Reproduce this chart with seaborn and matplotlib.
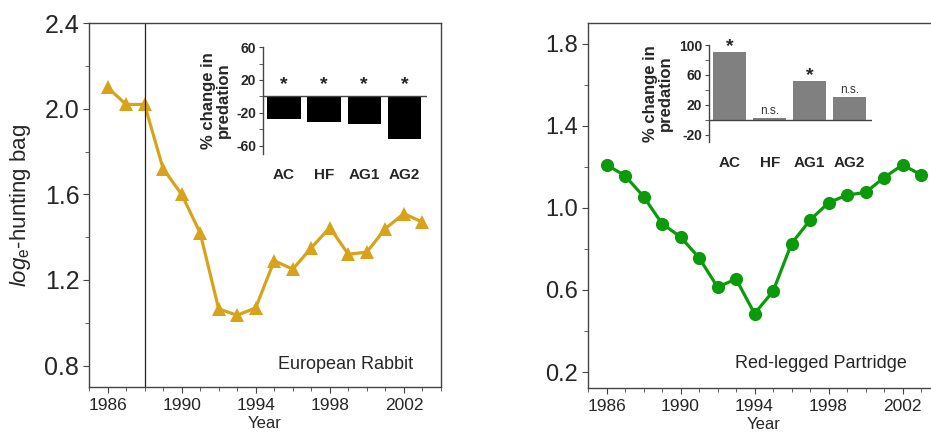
import numpy as np
import pandas as pd
import seaborn as sns
import matplotlib.pyplot as plt
from matplotlib.ticker import MultipleLocator

# Data
years = list(range(1986, 2004))
rabbit = [2.10, 2.02, 2.02, 1.72, 1.60, 1.42, 1.065, 1.035, 1.07,
          1.29, 1.25, 1.35, 1.445, 1.32, 1.33, 1.44, 1.51, 1.47]
partridge = [1.21, 1.156, 1.055, 0.923, 0.858, 0.757, 0.614, 0.653, 0.485,
             0.593, 0.826, 0.940, 1.025, 1.062, 1.075, 1.147, 1.209, 1.161]

treatments = ["AC", "HF", "AG1", "AG2"]
rabbit_pred = [-28, -31.5, -34, -52]
rabbit_sig = ["*", "*", "*", "*"]
partridge_pred = [91, 2, 52, 30]
partridge_sig = ["*", "n.s.", "*", "n.s."]

sns.set_style("ticks")
plt.rcParams["font.family"] = ["Liberation Sans", "DejaVu Sans"]
plt.rcParams["mathtext.fontset"] = "custom"
plt.rcParams["mathtext.it"] = "Liberation Sans:italic"
plt.rcParams["mathtext.rm"] = "Liberation Sans"
plt.rcParams["axes.unicode_minus"] = False

spine_col = "#444444"
gold = "#D9A21B"
green = "#0A9A0A"

fig = plt.figure(figsize=(9.31, 4.4), dpi=100)
ax1 = fig.add_axes([0.0956, 0.1205, 0.378, 0.827])
ax2 = fig.add_axes([0.6316, 0.118, 0.3776, 0.8297])


def style_main(ax, ytick_size, y_offset):
    for s in ax.spines.values():
        s.set_color(spine_col)
        s.set_linewidth(1.0)
    ax.xaxis.set_major_locator(MultipleLocator(4, offset=2))
    ax.xaxis.set_minor_locator(MultipleLocator(1))
    ax.yaxis.set_major_locator(MultipleLocator(0.4, offset=y_offset))
    ax.yaxis.set_minor_locator(MultipleLocator(0.2))
    ax.tick_params(axis="x", which="major", labelsize=12.5, length=4, color=spine_col, pad=4)
    ax.tick_params(axis="y", which="major", labelsize=ytick_size, length=4, color=spine_col, pad=3)
    ax.tick_params(which="minor", length=3, color=spine_col)
    ax.set_xlabel("Year", fontsize=12, labelpad=2)
    ax.grid(False)


# Left: European rabbit
df_r = pd.DataFrame({"year": years, "bag": rabbit})
sns.lineplot(data=df_r, x="year", y="bag", ax=ax1, color=gold, lw=2.3,
             marker="^", markersize=10, markeredgewidth=0)
ax1.axvline(1988, color="#222222", lw=0.9)
ax1.set_xlim(1985, 2004)
ax1.set_ylim(0.70, 2.40)
style_main(ax1, 18, 0.0)
ax1.yaxis.set_major_formatter(plt.FormatStrFormatter("%.1f"))
ax1.set_ylabel(r"$\mathit{log}_{\mathrm{e}}$-hunting bag", fontsize=16, labelpad=8)
ax1.text(0.92, 0.063, "European Rabbit", transform=ax1.transAxes,
         ha="right", va="center", fontsize=13)

# Right: red-legged partridge
df_p = pd.DataFrame({"year": years, "bag": partridge})
sns.lineplot(data=df_p, x="year", y="bag", ax=ax2, color=green, lw=2.3,
             marker="o", markersize=9.5, markeredgewidth=0)
ax2.set_xlim(1985, 2004)
ax2.set_ylim(0.122, 1.90)
style_main(ax2, 17, 0.2)
ax2.yaxis.set_major_formatter(plt.FormatStrFormatter("%.1f"))
ax2.set_ylabel("")
ax2.text(0.907, 0.068, "Red-legged Partridge", transform=ax2.transAxes,
         ha="right", va="center", fontsize=13)


def draw_inset(ax, vals, sigs, color, ylim, star_mode):
    sns.barplot(x=treatments, y=vals, color=color, width=0.83,
                saturation=1, ax=ax, edgecolor="none")
    ax.set_xlim(-0.52, 3.56)
    ax.set_ylim(*ylim)
    ax.axhline(0, color=spine_col, lw=1.0, xmin=0, xmax=1)
    ax.patch.set_alpha(0)
    for side in ["top", "right", "bottom"]:
        ax.spines[side].set_visible(False)
    ax.spines["left"].set_color(spine_col)
    ax.spines["left"].set_linewidth(1.0)
    ax.yaxis.set_major_locator(MultipleLocator(40, offset=20))
    ax.yaxis.set_minor_locator(MultipleLocator(20))
    ax.tick_params(axis="y", which="major", labelsize=10, length=3, color=spine_col, pad=2)
    ax.tick_params(axis="y", which="minor", length=3, color=spine_col)
    ax.tick_params(axis="x", length=0, labelsize=11, pad=10)
    for lab in ax.get_xticklabels() + ax.get_yticklabels():
        lab.set_fontweight("bold")
    ax.set_xlabel("")
    ax.set_ylabel("% change in\npredation", fontsize=12, fontweight="bold",
                  labelpad=4, linespacing=1.0)
    for i, (v, s) in enumerate(zip(vals, sigs)):
        if star_mode == "above_zero":
            ax.text(i, 4, s, ha="center", va="bottom", fontsize=14, fontweight="bold")
        else:
            if s == "*":
                ax.text(i, max(v, 0) - 4, s, ha="center", va="bottom",
                        fontsize=14, fontweight="bold")
            else:
                ax.text(i, max(v, 0) + 2, s, ha="center", va="bottom",
                        fontsize=8.5, color="#333333")


ins1 = fig.add_axes([0.2825, 0.65, 0.176, 0.243])
draw_inset(ins1, rabbit_pred, rabbit_sig, "black", (-70, 60), "above_zero")

ins2 = fig.add_axes([0.7616, 0.677, 0.175, 0.2205])
draw_inset(ins2, partridge_pred, partridge_sig, "#808080", (-30, 100), "above_bar")

fig.savefig("out.png", dpi=100)
